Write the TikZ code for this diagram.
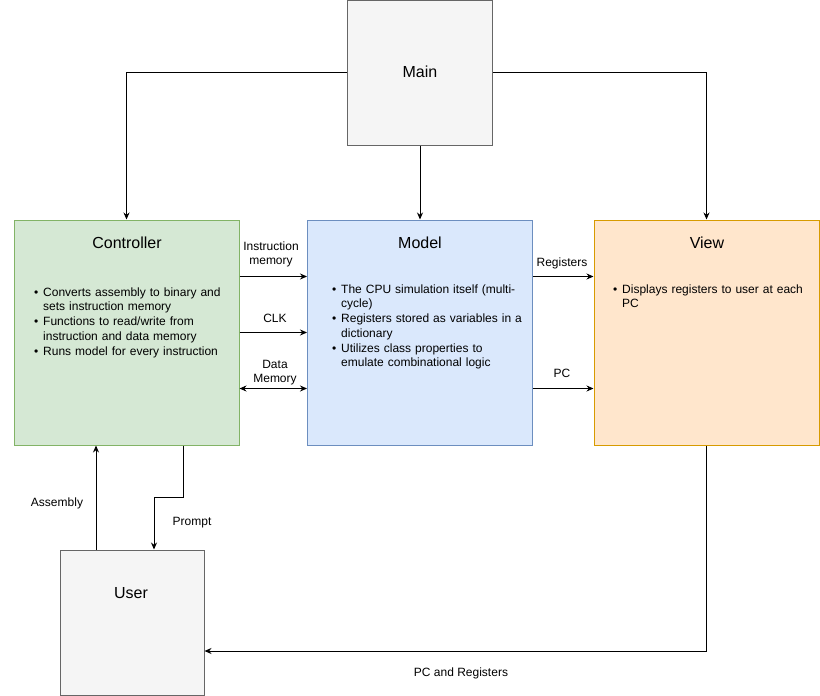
\documentclass[tikz,border=0pt]{standalone}
\usepackage{fontspec}
\setmainfont{Liberation Sans}
\usetikzlibrary{arrows.meta}

\definecolor{grayfill}{HTML}{F5F5F5}
\definecolor{graydraw}{HTML}{666666}
\definecolor{greenfill}{HTML}{D5E8D4}
\definecolor{greendraw}{HTML}{82B366}
\definecolor{bluefill}{HTML}{DAE8FC}
\definecolor{bluedraw}{HTML}{6C8EBF}
\definecolor{orangefill}{HTML}{FFE6CC}
\definecolor{orangedraw}{HTML}{D79B00}

\newcommand{\bitem}[1]{\par\noindent\makebox[9pt][l]{\textbullet}\parbox[t]{191pt}{\raggedright #1}\par}

\tikzset{
  box/.style={draw, line width=1pt, inner sep=0pt, minimum width=225, minimum height=225},
  title/.style={font=\fontsize{16}{18}\selectfont},
  lbl/.style={font=\fontsize{12}{14}\selectfont, align=center, inner sep=0pt},
  bullets/.style={anchor=north west, inner sep=0pt, text width=200, align=left,
    font=\fontsize{12}{14.3}\selectfont\setlength{\parskip}{3pt}},
  conn/.style={line width=1pt, -{Stealth[length=7pt,width=6pt]}},
}

\begin{document}
\begin{tikzpicture}[x=1pt,y=-1pt]
\useasboundingbox (0,0) rectangle (820,696);

%% boxes
\node[box, fill=grayfill, draw=graydraw, minimum width=145, minimum height=145] at (420,72.5) (main) {};
\node[box, fill=greenfill, draw=greendraw] at (126.5,332.5) (ctrl) {};
\node[box, fill=bluefill, draw=bluedraw] at (420,332.5) (model) {};
\node[box, fill=orangefill, draw=orangedraw] at (706.5,332.5) (view) {};
\node[box, fill=grayfill, draw=graydraw, minimum width=144, minimum height=145] at (132,622.5) (user) {};

%% titles
\node[title] at (420,72) (mainT) {Main};
\node[title] at (127,243) (ctrlT) {Controller};
\node[title] at (420,243) (modelT) {Model};
\node[title] at (707,243) (viewT) {View};
\node[title] at (131,593) (userT) {User};

%% bullet lists
\node[bullets] at (34,279) (ctrlB) {%
  \bitem{Converts assembly to binary and\newline sets instruction memory}
  \bitem{Functions to read/write from\newline instruction and data memory}
  \bitem{Runs model for every instruction}};
\node[bullets] at (332,276) (modelB) {%
  \bitem{The CPU simulation itself (multi-\newline cycle)}
  \bitem{Registers stored as variables in a\newline dictionary}
  \bitem{Utilizes class properties to\newline emulate combinational logic}};
\node[bullets] at (613,276) (viewB) {%
  \bitem{Displays registers to user at each\newline PC}};

%% connectors
\draw[conn] (main.west) -| (ctrl.north);
\draw[conn] (main.south) -- (model.north);
\draw[conn] (main.east) -| (view.north);
\draw[conn] ([yshift=56]ctrl.east) -- ([yshift=56]model.west);        %% instruction memory
\draw[conn] (ctrl.east) -- (model.west);                              %% clk
\draw[conn, {Stealth[length=7pt,width=6pt]}-{Stealth[length=7pt,width=6pt]}]
  ([yshift=-56]ctrl.east) -- ([yshift=-56]model.west);                %% data memory
\draw[conn] ([yshift=56]model.east) -- ([yshift=56]view.west);        %% registers
\draw[conn] ([yshift=-56]model.east) -- ([yshift=-56]view.west);      %% pc
\draw[conn] ([xshift=-36]user.north) -- ([xshift=-36]user.north |- ctrl.south); %% assembly
\draw[conn] ([xshift=56.5]ctrl.south) -- ++(0,52) -| ([xshift=22]user.north);   %% prompt
\draw[conn] (view.south) |- ([yshift=-28.5]user.east);                %% pc and registers

%% connector labels
\node[lbl] at (271,254) (imL) {Instruction\\memory};
\node[lbl] at (275,318) (clkL) {CLK};
\node[lbl] at (275,373) (dmL) {Data\\Memory};
\node[lbl] at (562,263) (regL) {Registers};
\node[lbl] at (562,373) (pcL) {PC};
\node[lbl] at (57,503) (asmL) {Assembly};
\node[lbl] at (192,523) (prL) {Prompt};
\node[lbl] at (461,673) (pcrL) {PC and Registers};
\end{tikzpicture}
\end{document}
